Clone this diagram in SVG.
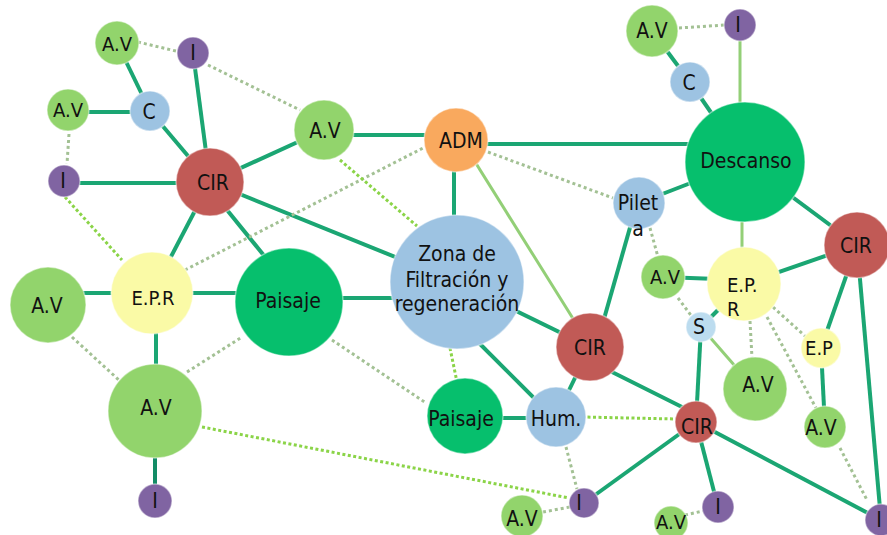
<svg xmlns="http://www.w3.org/2000/svg" width="887" height="535" viewBox="0 0 887 535">
  <style>
    .bg { fill: #ffffff; }
    .s { stroke: #1ba673; stroke-width: 4; fill: none; }
    .sd { stroke: #138c66; stroke-width: 4; fill: none; }
    .l { stroke: #93cf77; stroke-width: 3; fill: none; }
    .dg { stroke: #a3c194; stroke-width: 3; stroke-dasharray: 3 3; fill: none; }
    .db { stroke: #8bd448; stroke-width: 3; stroke-dasharray: 3 2.5; fill: none; }
    circle { stroke: #ffffff; stroke-opacity: 0.45; stroke-width: 1.5; }
    .av { fill: #92d46c; }
    .i { fill: #8064a2; }
    .b { fill: #9dc3e2; }
    .sb { fill: #bcdcef; }
    .cir { fill: #c15a56; }
    .adm { fill: #f9a95e; }
    .g { fill: #06bf6d; }
    .y { fill: #fafaa6; }
    text { font-family: "DejaVu Sans Condensed", "Liberation Sans", Arial, sans-serif; font-size: 21px; fill: #111111; text-anchor: middle; }
    .sm { font-size: 20px; }
    .zn { font-size: 21px; }
    .st { text-anchor: start; }
  </style>
  <rect class="bg" x="0" y="0" width="887" height="535"/>

  <g id="connectors">
    <!-- solid links -->
    <line class="s" x1="117" y1="43" x2="150" y2="111"/>
    <line class="s" x1="68" y1="112" x2="150" y2="112"/>
    <line class="s" x1="150" y1="111" x2="210" y2="182"/>
    <line class="s" x1="193" y1="53" x2="210" y2="182"/>
    <line class="s" x1="64" y1="183" x2="210" y2="183"/>
    <line class="s" x1="210" y1="182" x2="324" y2="130"/>
    <line class="s" x1="210" y1="182" x2="152" y2="293"/>
    <line class="s" x1="206" y1="184" x2="300" y2="300"/>
    <line class="s" x1="210" y1="182" x2="457" y2="282"/>
    <line class="s" x1="324" y1="135" x2="456" y2="135"/>
    <line class="s" x1="454" y1="140" x2="454" y2="282"/>
    <line class="s" x1="456" y1="144" x2="745" y2="144"/>
    <line class="s" x1="48" y1="293" x2="152" y2="293"/>
    <line class="s" x1="152" y1="293" x2="289" y2="293"/>
    <line class="s" x1="156" y1="293" x2="156" y2="411"/>
    <line class="sd" x1="155" y1="411" x2="155" y2="501"/>
    <line class="s" x1="289" y1="298" x2="457" y2="298"/>
    <line class="s" x1="457" y1="282" x2="590" y2="347"/>
    <line class="s" x1="470" y1="334" x2="556" y2="420"/>
    <line class="s" x1="465" y1="418" x2="556" y2="418"/>
    <line class="s" x1="556" y1="417" x2="590" y2="347"/>
    <line class="s" x1="596" y1="347" x2="637" y2="203"/>
    <line class="s" x1="590" y1="361" x2="696" y2="414"/>
    <line class="s" x1="639" y1="203" x2="745" y2="162"/>
    <line class="s" x1="690" y1="82" x2="745" y2="162"/>
    <line class="s" x1="652" y1="31" x2="690" y2="82"/>
    <line class="s" x1="745" y1="162" x2="857" y2="245"/>
    <line class="s" x1="663" y1="277" x2="744" y2="280"/>
    <line class="s" x1="744" y1="284" x2="857" y2="245"/>
    <line class="s" x1="744" y1="284" x2="701" y2="327"/>
    <line class="s" x1="701" y1="327" x2="696" y2="422"/>
    <line class="s" x1="857" y1="245" x2="821" y2="348"/>
    <line class="s" x1="821" y1="348" x2="825" y2="427"/>
    <line class="s" x1="857" y1="245" x2="881" y2="520"/>
    <line class="s" x1="696" y1="422" x2="584" y2="503"/>
    <line class="s" x1="696" y1="422" x2="718" y2="507"/>
    <line class="s" x1="696" y1="422" x2="881" y2="520"/>
    <!-- light links -->
    <line class="l" x1="740" y1="25" x2="740" y2="162"/>
    <line class="l" x1="462" y1="141" x2="582" y2="333"/>
    <line class="l" x1="742" y1="162" x2="742" y2="284"/>
    <line class="l" x1="701" y1="327" x2="755" y2="389"/>
    <!-- dotted links -->
    <line class="dg" x1="138" y1="42" x2="180" y2="52"/>
    <line class="dg" x1="208" y1="65" x2="300" y2="110"/>
    <line class="dg" x1="69" y1="134" x2="67" y2="164"/>
    <line class="dg" x1="185" y1="270" x2="425" y2="147"/>
    <line class="dg" x1="72" y1="337" x2="120" y2="381"/>
    <line class="dg" x1="187" y1="372" x2="242" y2="337"/>
    <line class="dg" x1="332" y1="340" x2="426" y2="403"/>
    <line class="dg" x1="488" y1="152" x2="613" y2="198"/>
    <line class="dg" x1="679" y1="28" x2="725" y2="25"/>
    <line class="dg" x1="650" y1="228" x2="658" y2="257"/>
    <line class="dg" x1="678" y1="298" x2="693" y2="318"/>
    <line class="dg" x1="750" y1="321" x2="752" y2="358"/>
    <line class="dg" x1="773" y1="307" x2="806" y2="337"/>
    <line class="dg" x1="767" y1="317" x2="816" y2="408"/>
    <line class="dg" x1="840" y1="448" x2="867" y2="500"/>
    <line class="dg" x1="566" y1="447" x2="577" y2="489"/>
    <line class="dg" x1="543" y1="512" x2="570" y2="507"/>
    <line class="dg" x1="685" y1="515" x2="703" y2="511"/>
    <line class="db" x1="65" y1="197" x2="122" y2="260"/>
    <line class="db" x1="340" y1="160" x2="417" y2="226"/>
    <line class="db" x1="450" y1="348" x2="457" y2="382"/>
    <line class="db" x1="202" y1="427" x2="569" y2="498"/>
    <line class="db" x1="582" y1="417" x2="676" y2="419"/>
  </g>

  <g id="n-av1"><circle class="av" cx="117" cy="43" r="22"/><text class="sm" x="117" y="51">A.V</text></g>
  <g id="n-i1"><circle class="i" cx="193" cy="53" r="16"/><text x="193" y="60">I</text></g>
  <g id="n-av2"><circle class="av" cx="68" cy="110" r="21"/><text class="sm" x="68" y="117">A.V</text></g>
  <g id="n-c1"><circle class="b" cx="150" cy="111" r="20"/><text x="149" y="119">C</text></g>
  <g id="n-i2"><circle class="i" cx="64" cy="181" r="16"/><text x="63" y="188">I</text></g>
  <g id="n-cir1"><circle class="cir" cx="210" cy="182" r="34"/><text x="213" y="190">CIR</text></g>
  <g id="n-av3"><circle class="av" cx="324" cy="130" r="30"/><text x="325" y="138">A.V</text></g>
  <g id="n-adm"><circle class="adm" cx="456" cy="140" r="32"/><text x="461" y="148">ADM</text></g>
  <g id="n-zona"><circle class="b" cx="457" cy="282" r="67"/>
    <text class="zn" x="457" y="261">Zona de</text>
    <text class="zn" x="457" y="287">Filtración y</text>
    <text class="zn" x="457" y="311">regeneración</text>
  </g>
  <g id="n-epr1"><circle class="y" cx="152" cy="293" r="41"/><text class="sm" x="153" y="305">E.P.R</text></g>
  <g id="n-av4"><circle class="av" cx="48" cy="305" r="38"/><text x="47" y="313">A.V</text></g>
  <g id="n-pai1"><circle class="g" cx="289" cy="302" r="54"/><text x="288" y="308">Paisaje</text></g>
  <g id="n-av5"><circle class="av" cx="155" cy="411" r="47"/><text x="156" y="415">A.V</text></g>
  <g id="n-i3"><circle class="i" cx="155" cy="501" r="17"/><text x="155" y="508">I</text></g>
  <g id="n-pai2"><circle class="g" cx="465" cy="416" r="38"/><text x="461" y="426">Paisaje</text></g>
  <g id="n-hum"><circle class="b" cx="556" cy="417" r="30"/><text x="556" y="426">Hum.</text></g>
  <g id="n-cir2"><circle class="cir" cx="590" cy="347" r="34"/><text x="590" y="355">CIR</text></g>
  <g id="n-pil"><circle class="b" cx="639" cy="203" r="26"/><text x="638" y="210">Pilet</text><text x="638" y="236">a</text></g>
  <g id="n-desc"><circle class="g" cx="745" cy="162" r="60"/><text x="746" y="168">Descanso</text></g>
  <g id="n-av6"><circle class="av" cx="652" cy="31" r="26"/><text x="652" y="38">A.V</text></g>
  <g id="n-i4"><circle class="i" cx="740" cy="25" r="16"/><text x="738" y="32">I</text></g>
  <g id="n-c2"><circle class="b" cx="690" cy="82" r="20"/><text x="689" y="90">C</text></g>
  <g id="n-cir3"><circle class="cir" cx="857" cy="245" r="33"/><text x="856" y="253">CIR</text></g>
  <g id="n-epr2"><circle class="y" cx="744" cy="284" r="37"/>
    <text class="sm st" x="727" y="292">E.P.</text>
    <text class="sm st" x="727" y="316">R</text>
  </g>
  <g id="n-av7"><circle class="av" cx="663" cy="277" r="22"/><text class="sm" x="665" y="284">A.V</text></g>
  <g id="n-s"><circle class="sb" cx="701" cy="327" r="15"/><text x="699" y="334">S</text></g>
  <g id="n-ep"><circle class="y" cx="821" cy="348" r="20"/><text class="sm" x="819" y="355">E.P</text></g>
  <g id="n-av8"><circle class="av" cx="755" cy="389" r="32"/><text x="758" y="392">A.V</text></g>
  <g id="n-av9"><circle class="av" cx="825" cy="427" r="21"/><text x="821" y="435">A.V</text></g>
  <g id="n-cir4"><circle class="cir" cx="696" cy="422" r="21"/><text x="697" y="434">CIR</text></g>
  <g id="n-i5"><circle class="i" cx="584" cy="503" r="15"/><text x="579" y="510">I</text></g>
  <g id="n-av10"><circle class="av" cx="522" cy="516" r="21"/><text x="522" y="526">A.V</text></g>
  <g id="n-i6"><circle class="i" cx="718" cy="507" r="16"/><text x="718" y="514">I</text></g>
  <g id="n-av11"><circle class="av" cx="671" cy="523" r="17"/><text class="sm" x="671" y="529">A.V</text></g>
  <g id="n-i7"><circle class="i" cx="881" cy="520" r="16"/><text x="879" y="527">I</text></g>
</svg>
